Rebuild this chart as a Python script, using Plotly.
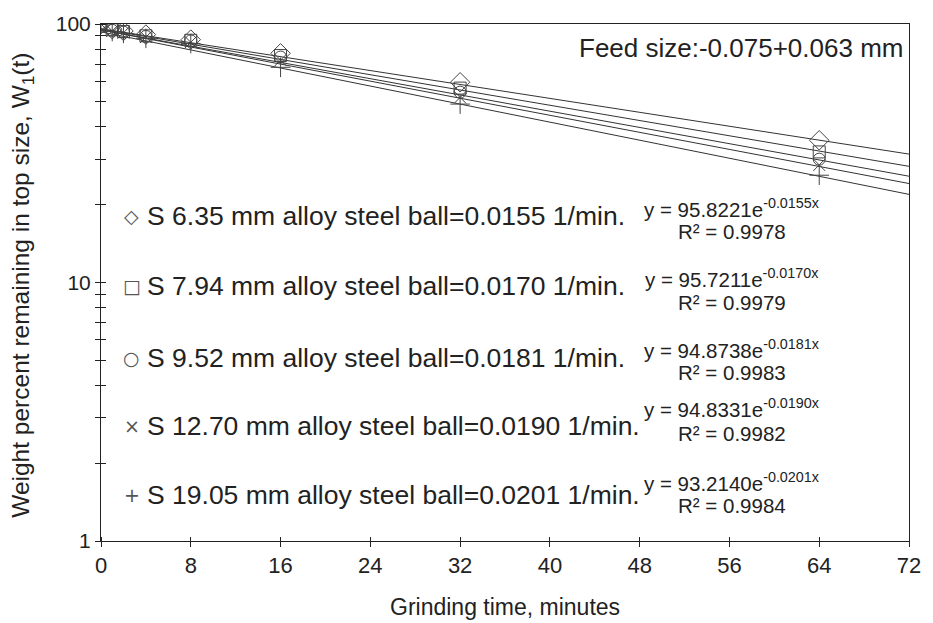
import numpy as np
import plotly.graph_objects as go

# Grinding times (minutes) and weight percent remaining in top size
t_min = [0, 1, 2, 4, 8, 16, 32, 64]
w_635 = [100, 95.5, 94.0, 91.0, 87.0, 77.0, 59.5, 35.5]
w_794 = [100, 95.0, 93.5, 90.0, 86.5, 75.5, 56.5, 32.0]
w_952 = [100, 94.5, 93.0, 89.5, 86.0, 74.5, 54.5, 30.0]
w_1270 = [100, 94.0, 92.5, 89.0, 85.0, 72.5, 52.0, 28.5]
w_1905 = [100, 93.5, 92.0, 88.0, 84.0, 68.0, 49.0, 26.0]

ball_sizes = ["6.35", "7.94", "9.52", "12.70", "19.05"]
fit_a = [95.8221, 95.7211, 94.8738, 94.8331, 93.2140]
fit_k = [0.0155, 0.0170, 0.0181, 0.0190, 0.0201]
fit_r2 = [0.9978, 0.9979, 0.9983, 0.9982, 0.9984]

x_ticks = [0, 8, 16, 24, 32, 40, 48, 56, 64, 72]
y_ticks = [1, 10, 100]
y_minor = [2, 3, 4, 5, 6, 7, 8, 9, 20, 30, 40, 50, 60, 70, 80, 90]

series = [w_635, w_794, w_952, w_1270, w_1905]
symbols = ["diamond-open", "square-open", "circle-open", "x-thin-open", "cross-thin-open"]
sizes = [15, 12, 12, 12, 14]
glyphs = ["\u25C7", "\u25A1", "\u25CB", "\u00D7", "+"]

W, H = 933, 623
L, R, T, B = 101, 917, 22, 541
TICK = 5  # half length of the crossing ticks
FONT = "Liberation Sans, Arial, sans-serif"
INK = "#222222"
MARK = "#444444"


def px(xp):
    return (xp - L) / (R - L)


def py(yp):
    return (B - yp) / (B - T)


fig = go.Figure()

t_fit = np.linspace(0, 72, 50)
for a, k in zip(fit_a, fit_k):
    fig.add_trace(go.Scatter(x=t_fit, y=a * np.exp(-k * t_fit), mode="lines",
                             line=dict(color="#333333", width=1), hoverinfo="skip"))

for w, sym, sz in zip(series, symbols, sizes):
    fig.add_trace(go.Scatter(x=t_min, y=w, mode="markers",
                             marker=dict(symbol=sym, size=sz, color=MARK,
                                         line=dict(color=MARK, width=1))))

# empty trace on the helper axes that draw the crossing tick marks
fig.add_trace(go.Scatter(x=[None], y=[None], xaxis="x2", yaxis="y2",
                         mode="markers", hoverinfo="skip"))

annotations = []
row_y = [215, 285, 357, 426, 495]
eq_y = [207, 277, 348, 407, 482]
r2_y = [230, 302, 372, 433, 505]
for i in range(5):
    annotations.append(dict(xref="paper", yref="paper", x=px(132), y=py(row_y[i]),
                            text=glyphs[i], showarrow=False, xanchor="center", yanchor="middle",
                            font=dict(family="DejaVu Sans", size=19, color="#555555")))
    annotations.append(dict(xref="paper", yref="paper", x=px(145), y=py(row_y[i]),
                            text=f"S {ball_sizes[i]} mm alloy steel ball={fit_k[i]:.4f} 1/min.",
                            showarrow=False, xanchor="left", yanchor="middle",
                            font=dict(family=FONT, size=26.5, color=INK)))
    annotations.append(dict(xref="paper", yref="paper", x=px(738), y=py(eq_y[i]),
                            text=f"y = {fit_a[i]:.4f}e<sup>-{fit_k[i]:.4f}x</sup>",
                            showarrow=False, xanchor="center", yanchor="middle",
                            font=dict(family=FONT, size=20.5, color=INK)))
    annotations.append(dict(xref="paper", yref="paper", x=px(738), y=py(r2_y[i]),
                            text=f"R\u00B2 = {fit_r2[i]:.4f}",
                            showarrow=False, xanchor="center", yanchor="middle",
                            font=dict(family=FONT, size=20.5, color=INK)))

annotations.append(dict(xref="paper", yref="paper", x=px(913), y=py(46),
                        text="Feed size:-0.075+0.063 mm", showarrow=False,
                        xanchor="right", yanchor="middle",
                        font=dict(family=FONT, size=26, color=INK)))
annotations.append(dict(xref="paper", yref="paper", x=px(509), y=py(607),
                        text="Grinding time, minutes", showarrow=False,
                        xanchor="center", yanchor="middle",
                        font=dict(family=FONT, size=23, color=INK)))
annotations.append(dict(xref="paper", yref="paper", x=px(22), y=py(284),
                        text="Weight percent remaining in top size, W<sub>1</sub>(t)",
                        showarrow=False, textangle=-90, xanchor="center", yanchor="middle",
                        font=dict(family=FONT, size=24.5, color=INK)))

axis_common = dict(showgrid=False, zeroline=False, linecolor=INK, linewidth=1,
                   tickcolor=INK, tickwidth=1)

fig.update_layout(
    width=W, height=H,
    margin=dict(l=L, r=W - R, t=T, b=H - B),
    paper_bgcolor="white", plot_bgcolor="rgba(0,0,0,0)",
    showlegend=False,
    font=dict(family=FONT, color=INK),
    annotations=annotations,
    xaxis=dict(**axis_common, range=[0, 72], tickvals=x_ticks, ticks="outside", ticklen=TICK,
               showline=True, mirror=True,
               tickfont=dict(family=FONT, size=22, color=INK)),
    yaxis=dict(**axis_common, type="log", range=[0, 2], tickvals=y_ticks,
               ticktext=[str(v) for v in y_ticks], ticks="outside", ticklen=TICK,
               showline=True, mirror=True,
               minor=dict(tickvals=y_minor, ticks="outside", ticklen=TICK,
                          tickcolor=INK, tickwidth=1),
               tickfont=dict(family=FONT, size=21, color=INK)),
    # helper axes shifted into the plot so their outside ticks straddle the axis lines
    xaxis2=dict(**axis_common, range=[0, 72], tickvals=x_ticks, ticks="outside",
                ticklen=2 * TICK, overlaying="x", anchor="free", position=TICK / (B - T),
                side="bottom", showticklabels=False, showline=False),
    yaxis2=dict(**axis_common, type="log", range=[0, 2], tickvals=y_ticks, ticks="outside",
                ticklen=2 * TICK, overlaying="y", anchor="free", position=TICK / (R - L),
                side="left", showticklabels=False, showline=False,
                minor=dict(tickvals=y_minor, ticks="outside", ticklen=2 * TICK,
                           tickcolor=INK, tickwidth=1)),
)

fig.write_html("out.html")
